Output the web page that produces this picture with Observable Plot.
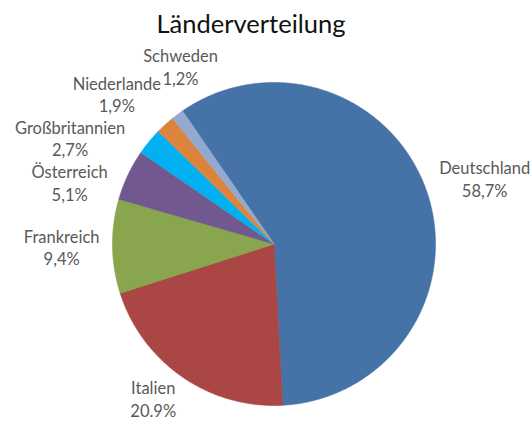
<!DOCTYPE html>
<html><head><meta charset="utf-8">
<script src="https://cdn.jsdelivr.net/npm/d3@7"></script>
<script src="https://cdn.jsdelivr.net/npm/@observablehq/plot@0.6"></script>
<style>
body{margin:0;background:#fff;font-family:Lato,sans-serif;}
#title{width:502px;height:40px;line-height:47px;text-align:center;font-size:25.5px;color:#111;white-space:nowrap;overflow:visible;}
</style></head><body>
<div id="title"></div>
<div id="chart"></div>
<script>
// ---- data ----
const title = "Länderverteilung";
const countries = ["Deutschland","Italien","Frankreich","Österreich","Großbritannien","Niederlande","Schweden"];
const shares = [58.7, 20.9, 9.4, 5.1, 2.7, 1.9, 1.2];
const shareLabels = ["58,7%","20.9%","9,4%","5,1%","2,7%","1,9%","1,2%"];

// ---- style / layout ----
const colors = ["#4572A7","#AA4643","#89A54E","#71588F","#00B0F0","#DB843D","#93A9CF"];
const W = 530, H = 385;
const R = 161.5, CX = 273.5, CY = 203.5;
const firstSliceAngle = -34.6 * Math.PI / 180;
const fontSize = 16.5, lineH = 22.5, gap = 13, pad = 1, cornerT = 0.6, edge = 6;

document.getElementById("title").textContent = title;

const table = countries.map((c, i) => ({country: c, share: shares[i], label: shareLabels[i]}));
const arcs = d3.pie().sort(null).value(d => d.share)
  .startAngle(firstSliceAngle).endAngle(firstSliceAngle + 2 * Math.PI)(table);

// slice polygons in unit-radius coordinates (y up)
const slicePts = [];
for (const a of arcs) {
  slicePts.push({country: a.data.country, x: 0, y: 0});
  const n = Math.max(2, Math.ceil((a.endAngle - a.startAngle) / (Math.PI / 360)));
  for (let k = 0; k <= n; k++) {
    const t = a.startAngle + (a.endAngle - a.startAngle) * k / n;
    slicePts.push({country: a.data.country, x: Math.sin(t), y: Math.cos(t)});
  }
}

// label placement: outside the mid-angle, then relax overlaps along the circle
const ctx = document.createElement("canvas").getContext("2d");
ctx.font = `${fontSize}px Lato`;
const clamp = v => Math.max(-1, Math.min(1, v));
const labels = arcs.map(a => {
  const lines = [a.data.country, a.data.label];
  const ws = lines.map(t => ctx.measureText(t).width);
  return {a, lines, ws, theta: (a.startAngle + a.endAngle) / 2,
          w: Math.max(...ws), h: lineH + fontSize * 0.72};
});
function boxes(l) {
  const sx = CX + l.cx, sy = CY - l.cy;
  const n = l.lines.length;
  return l.ws.map((w, k) => {
    const b = sy + (k - (n - 1) / 2) * lineH + 0.35 * fontSize;
    return [sx - w / 2, sx + w / 2, b - 0.99 * fontSize, b + 0.25 * fontSize];
  });
}
function place(l) {
  const s = Math.sin(l.theta), c = Math.cos(l.theta);
  l.cx = (R + gap) * s + l.w / 2 * clamp(s / cornerT);
  l.cy = (R + gap) * c + l.h / 2 * clamp(c / cornerT);
  l.boxes = boxes(l);
  // keep the label inside the frame
  const bottom = Math.max(...l.boxes.map(b => b[3]));
  if (bottom > H - edge) { l.cy += bottom - (H - edge); l.boxes = boxes(l); }
}
function overlap(p, q) {
  for (const A of p.boxes) for (const B of q.boxes)
    if (A[0] < B[1] + pad && B[0] < A[1] + pad && A[2] < B[3] + pad && B[2] < A[3] + pad) return true;
  return false;
}
labels.forEach(place);
const step = 0.1 * Math.PI / 180;
for (let it = 0; it < 8000; it++) {
  let moved = false;
  for (let i = 0; i < labels.length; i++) for (let j = i + 1; j < labels.length; j++) {
    const p = labels[i], q = labels[j];
    if (overlap(p, q)) { p.theta -= step; q.theta += step; place(p); place(q); moved = true; }
  }
  if (!moved) break;
}
const labelData = labels.map(l => ({
  x: l.cx / R, y: l.cy / R,
  text: l.lines.join("\n")
}));

const chart = Plot.plot({
  width: W, height: H, margin: 0,
  style: {fontFamily: "Lato", background: "#fff"},
  x: {domain: [-CX / R, (W - CX) / R], axis: null},
  y: {domain: [-(H - CY) / R, CY / R], axis: null},
  color: {domain: countries, range: colors},
  marks: [
    Plot.line(slicePts, {x: "x", y: "y", z: "country", fill: "country", stroke: "country", strokeWidth: 0.6, curve: "linear-closed"}),
    Plot.text(labelData, {x: "x", y: "y", text: "text", fill: "#595959", fontSize, lineHeight: lineH / fontSize, fontFamily: "Lato", textAnchor: "middle", lineAnchor: "middle"})
  ]
});
document.getElementById("chart").appendChild(chart);
</script>
</body></html>
